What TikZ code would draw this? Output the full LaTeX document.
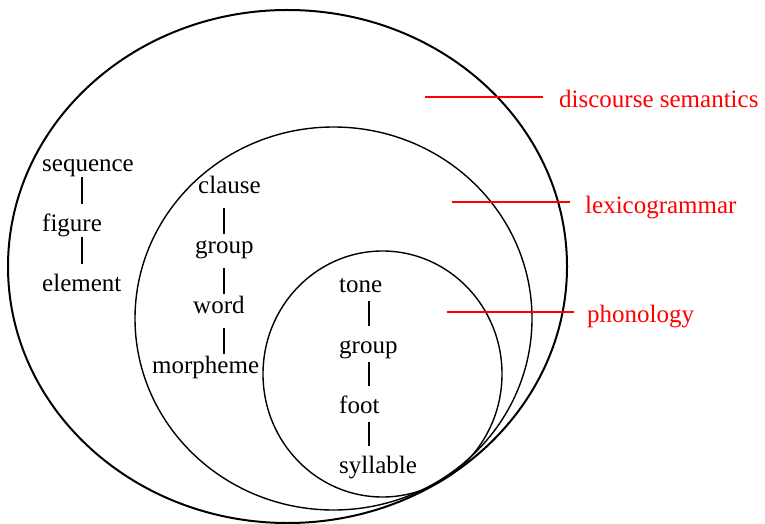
\documentclass[tikz,border=0pt]{standalone}
\usepackage{fontspec}
\setmainfont{Liberation Serif}

\begin{document}
\begin{tikzpicture}[x=1pt,y=-1pt,
  unit/.style={anchor=base west,inner sep=0pt,font=\fontsize{25}{30}\selectfont},
  stratum/.style={unit,text=red},
  pointer/.style={red,line width=1.5pt},
  rank/.style={line width=1.5pt}]
\useasboundingbox (0,0) rectangle (765,524);
\draw[line width=2pt] (287.5,266.5) ellipse [x radius=279.5pt,y radius=256.5pt];
\draw[line width=1.4pt] (333.5,318.5) ellipse [x radius=198.5pt,y radius=191.5pt];
\draw[line width=1.4pt] (382.5,374) ellipse [x radius=119.5pt,y radius=123pt];

\node[unit] (seq) at (42,171) {sequence};
\node[unit] (fig) at (42,231) {figure};
\node[unit] (elt) at (42,291) {element};
\node[unit] (cls) at (198,193) {clause};
\node[unit] (grp) at (195,253) {group};
\node[unit] (wrd) at (193,313) {word};
\node[unit] (mor) at (152,373) {morpheme};
\node[unit] (ton) at (339,292) {tone};
\node[unit] (tgr) at (339,353) {group};
\node[unit] (fot) at (339,413) {foot};
\node[unit] (syl) at (339,473) {syllable};

\coordinate (c1) at (82,0);
\coordinate (c2) at (224,0);
\coordinate (c3) at (369,0);
\foreach \a/\b in {seq/fig,fig/elt}
  \draw[rank,shorten <=6pt,shorten >=27pt] (\a.base -| c1) -- (\b.base -| c1);
\foreach \a/\b in {cls/grp,grp/wrd,wrd/mor}
  \draw[rank,shorten <=15pt,shorten >=19pt] (\a.base -| c2) -- (\b.base -| c2);
\foreach \a/\b in {ton/tgr,tgr/fot,fot/syl}
  \draw[rank,shorten <=9pt,shorten >=27pt] (\a.base -| c3) -- (\b.base -| c3);

\node[stratum] (ds) at (559,108) {discourse semantics};
\node[stratum] (lg) at (585,213) {lexicogrammar};
\node[stratum] (ph) at (587,322) {phonology};
\draw[pointer] (ds.base west) ++(-16,-11) -- ++(-118,0);
\draw[pointer] (lg.base west) ++(-15,-11) -- ++(-118,0);
\draw[pointer] (ph.base west) ++(-13,-10) -- ++(-127,0);
\end{tikzpicture}
\end{document}
